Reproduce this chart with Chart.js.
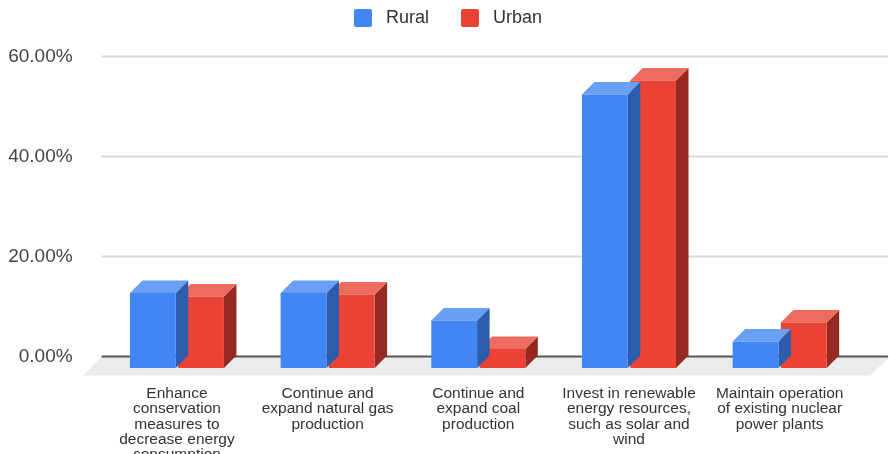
<!DOCTYPE html>
<html>
<head>
<meta charset="utf-8">
<script src="https://cdn.jsdelivr.net/npm/chart.js@4"></script>
<style>
  html, body { margin: 0; padding: 0; background: #fff; }
  #wrap { width: 890px; height: 454px; }
</style>
</head>
<body>
<div id="wrap"><canvas id="chart" width="890" height="454"></canvas></div>
<script>
// data
const categories = [
  ['Enhance', 'conservation', 'measures to', 'decrease energy', 'consumption'],
  ['Continue and', 'expand natural gas', 'production'],
  ['Continue and', 'expand coal', 'production'],
  ['Invest in renewable', 'energy resources,', 'such as solar and', 'wind'],
  ['Maintain operation', 'of existing nuclear', 'power plants']
];
const rural = [15.0, 15.0, 9.5, 54.7, 5.3];
const urban = [14.3, 14.7, 3.8, 57.5, 9.1];
const yTicks = [0, 20, 40, 60];

const BLUE = '#4285f4', BLUE_TOP = '#6a9ff6', BLUE_SIDE = '#2c5cab';
const RED = '#ea4335', RED_TOP = '#ee6b5f', RED_SIDE = '#962a23';
const DEPTH = 12.5;     // profondeur des barres (px)
const PX_PER_PCT = 5;   // échelle verticale
const ZERO_BACK = 356.5; // ligne 0 % (plan arrière)
const FONT = 'Liberation Sans, Arial, sans-serif';

// fausse 3D : faces du dessus et de côté avant la face avant
const bars3d = {
  id: 'bars3d',
  beforeDatasetsDraw(chart) {
    const { ctx, chartArea } = chart;
    const back = chart.scales.yBack;
    const y0 = back.getPixelForValue(0);
    // sol
    ctx.save();
    ctx.fillStyle = '#ebebeb';
    ctx.beginPath();
    ctx.moveTo(chartArea.left, y0);
    ctx.lineTo(chart.width, y0);
    ctx.lineTo(chart.width - 20, y0 + 19);
    ctx.lineTo(chartArea.left - 18.5, y0 + 19);
    ctx.closePath();
    ctx.fill();
    // grille
    yTicks.forEach(v => {
      const y = back.getPixelForValue(v);
      ctx.strokeStyle = v === 0 ? '#555' : '#d9d9d9';
      ctx.lineWidth = 2;
      ctx.beginPath();
      ctx.moveTo(chartArea.left, y);
      ctx.lineTo(chart.width - 2, y);
      ctx.stroke();
    });
    ctx.restore();
  },
  beforeDatasetDraw(chart, args) {
    const { ctx } = chart;
    const ds = chart.data.datasets[args.index];
    ctx.save();
    args.meta.data.forEach(bar => {
      const p = bar.getProps(['x', 'y', 'base', 'width'], true);
      const x0 = p.x - p.width / 2, x1 = p.x + p.width / 2;
      ctx.fillStyle = ds.sideColor;
      ctx.beginPath();
      ctx.moveTo(x1, p.y);
      ctx.lineTo(x1 + DEPTH, p.y - DEPTH);
      ctx.lineTo(x1 + DEPTH, p.base - DEPTH);
      ctx.lineTo(x1, p.base);
      ctx.closePath();
      ctx.fill();
      ctx.fillStyle = ds.topColor;
      ctx.beginPath();
      ctx.moveTo(x0, p.y);
      ctx.lineTo(x1, p.y);
      ctx.lineTo(x1 + DEPTH, p.y - DEPTH);
      ctx.lineTo(x0 + DEPTH, p.y - DEPTH);
      ctx.closePath();
      ctx.fill();
    });
    ctx.restore();
  }
};

const chart = new Chart(document.getElementById('chart'), {
  type: 'bar',
  data: {
    labels: categories,
    datasets: [
      { label: 'Rural', data: rural, backgroundColor: BLUE, topColor: BLUE_TOP, sideColor: BLUE_SIDE, borderWidth: 0 },
      { label: 'Urban', data: urban, backgroundColor: RED, topColor: RED_TOP, sideColor: RED_SIDE, borderWidth: 0 }
    ]
  },
  options: {
    responsive: false,
    animation: false,
    layout: { padding: { top: 2, left: 6, right: 0, bottom: 0 } },
    datasets: { bar: { categoryPercentage: 0.64, barPercentage: 0.95 } },
    plugins: {
      tooltip: { enabled: false },
      legend: {
        position: 'top',
        labels: {
          font: { family: FONT, size: 18 },
          color: '#333',
          boxWidth: 18,
          boxHeight: 18,
          padding: 7,
          useBorderRadius: true,
          borderRadius: 2,
          generateLabels(chart) {
            const items = Chart.defaults.plugins.legend.labels.generateLabels(chart);
            items.forEach((it, i) => { it.text = ' ' + it.text + (i === 0 ? '     ' : ''); it.lineWidth = 0; });
            return items;
          }
        }
      }
    },
    scales: {
      x: {
        grid: { display: false },
        border: { display: false },
        ticks: {
          autoSkip: false,
          maxRotation: 0,
          padding: 10,
          color: '#333',
          font: { family: FONT, size: 15.5, lineHeight: 0.99 }
        },
        afterFit(scale) { scale.height = 86; }
      },
      y: { display: false, min: 0, max: 66 },
      yBack: {
        position: 'left',
        min: -2.3,
        max: 63.7,
        grid: { display: false },
        border: { display: false },
        ticks: {
          padding: 21,
          color: '#444',
          font: { family: FONT, size: 19 },
          callback: v => v.toFixed(2) + '%'
        },
        afterBuildTicks(scale) { scale.ticks = yTicks.map(v => ({ value: v })); },
        afterFit(scale) { scale.width = 95.6; }
      },
      // marge droite (la grille déborde à droite de la dernière catégorie)
      yRight: {
        position: 'right',
        grid: { display: false },
        border: { display: false },
        ticks: { display: false },
        afterFit(scale) { scale.width = 35; }
      }
    }
  },
  plugins: [bars3d]
});

// caler l'échelle sur la zone de tracé : 5 px par %, 0 % arrière à ZERO_BACK
const area = chart.chartArea;
const span = (area.bottom - area.top) / PX_PER_PCT;
const lift = (area.bottom - ZERO_BACK) / PX_PER_PCT;
chart.options.scales.y.max = span;
chart.options.scales.yBack.min = -lift;
chart.options.scales.yBack.max = span - lift;
chart.update();
</script>
</body>
</html>
